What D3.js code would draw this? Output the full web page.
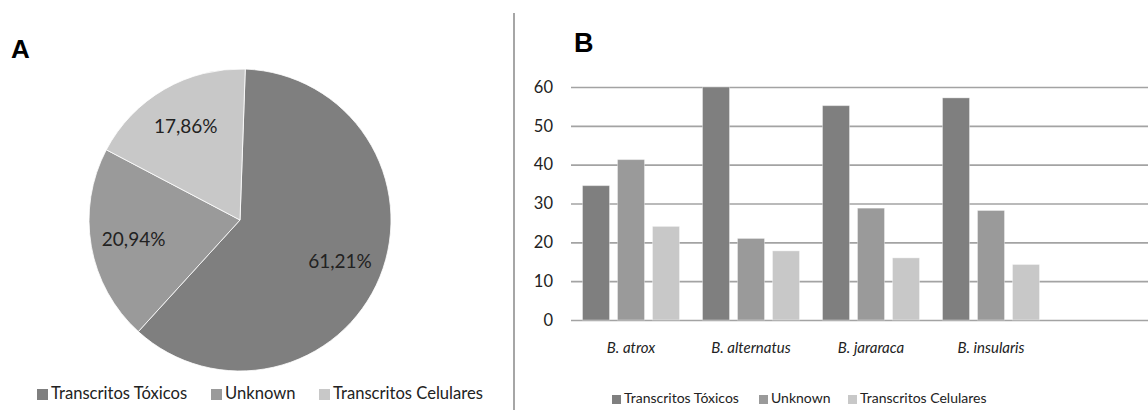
<!DOCTYPE html>
<html>
<head>
<meta charset="utf-8">
<script src="https://cdn.jsdelivr.net/npm/d3@7"></script>
<style>
  html, body { margin: 0; padding: 0; background: #fff; }
  svg { display: block; font-family: Lato, "Open Sans", sans-serif; }
</style>
</head>
<body>
<svg id="fig" width="1148" height="410"></svg>
<script>
// Transcript classes and their colours
const seriesNames = ["Transcritos Tóxicos", "Unknown", "Transcritos Celulares"];
const seriesColors = ["#7f7f7f", "#9a9a9a", "#c8c8c8"];

// Panel A: overall share of each class (%)
const pieValues = [61.21, 20.94, 17.86];
const pieLabels = ["61,21%", "20,94%", "17,86%"];

// Panel B: percentage per species
const species = ["B. atrox", "B. alternatus", "B. jararaca", "B. insularis"];
const toxicos = [34.6, 60.0, 55.2, 57.2];
const unknown = [41.3, 21.0, 28.8, 28.2];
const celulares = [24.1, 17.8, 16.0, 14.3];
const yTicks = [0, 10, 20, 30, 40, 50, 60];

const svg = d3.select("#fig");
const textColor = "#222222";

// ---------- Panel A: pie ----------
const pieG = svg.append("g").attr("transform", "translate(240,220)");
const startOffset = 2 * Math.PI / 180;
const pie = d3.pie().sort(null)
  .startAngle(startOffset).endAngle(2 * Math.PI + startOffset);
const arcs = pie(pieValues);
const arc = d3.arc().innerRadius(0).outerRadius(151);
const labelArc = d3.arc().innerRadius(108).outerRadius(108);

pieG.selectAll("path.slice").data(arcs).join("path")
  .attr("class", "slice")
  .attr("d", arc)
  .attr("fill", (d, i) => seriesColors[i])
  .attr("stroke", "#ffffff")
  .attr("stroke-width", 0.8);

pieG.selectAll("text.plabel").data(arcs).join("text")
  .attr("class", "plabel")
  .attr("transform", d => `translate(${labelArc.centroid(d)})`)
  .attr("text-anchor", "middle")
  .attr("dy", "0.36em")
  .attr("font-size", 19)
  .attr("fill", textColor)
  .text((d, i) => pieLabels[i]);

svg.append("text")
  .attr("x", 11).attr("y", 58)
  .attr("font-family", "Liberation Sans, Arial, sans-serif")
  .attr("font-weight", "bold")
  .attr("font-size", 26)
  .attr("fill", "#000")
  .text("A");

// legend builder shared by both panels
function legend(g, xs, size, box) {
  const items = g.selectAll("g.item").data(seriesNames).join("g")
    .attr("class", "item")
    .attr("transform", (d, i) => `translate(${xs[i]},0)`);
  items.append("rect")
    .attr("x", 0).attr("y", -box + 1)
    .attr("width", box).attr("height", box)
    .attr("fill", (d, i) => seriesColors[i]);
  items.append("text")
    .attr("x", box + 3).attr("y", 0)
    .attr("font-size", size)
    .attr("fill", textColor)
    .text(d => d);
}

legend(svg.append("g").attr("transform", "translate(37,399)"), [0, 174, 282], 16.6, 11);

// ---------- divider ----------
svg.append("line")
  .attr("x1", 514).attr("x2", 514)
  .attr("y1", 13).attr("y2", 410)
  .attr("stroke", "#a6a6a6")
  .attr("stroke-width", 2);

// ---------- Panel B: clustered columns ----------
svg.append("text")
  .attr("x", 574).attr("y", 52)
  .attr("font-family", "Liberation Sans, Arial, sans-serif")
  .attr("font-weight", "bold")
  .attr("font-size", 27)
  .attr("fill", "#000")
  .text("B");

const plotLeft = 571, plotRight = 1148;
const y = d3.scaleLinear().domain([0, 60]).range([320, 87]);
const x0 = d3.scaleBand().domain(species).range([plotLeft, plotLeft + 480]);
const x1 = d3.scaleBand().domain(seriesNames).range([0, x0.bandwidth()])
  .paddingInner(0.229).paddingOuter(0.329);

// horizontal gridlines with value labels
const yAxis = d3.axisLeft(y).tickValues(yTicks)
  .tickSize(-(plotRight - plotLeft)).tickPadding(18).tickFormat(d3.format("d"));
const yg = svg.append("g").attr("transform", `translate(${plotLeft},0)`).call(yAxis);
yg.select(".domain").remove();
yg.selectAll(".tick line").attr("stroke", "#a3a3a3").attr("stroke-width", 1.6);
yg.selectAll(".tick text")
  .attr("font-size", 16.5).attr("fill", textColor)
  .attr("font-family", "Lato, sans-serif");

const rows = species.map((s, i) => ({ s, v: [toxicos[i], unknown[i], celulares[i]] }));
const groups = svg.append("g").selectAll("g").data(rows).join("g")
  .attr("transform", d => `translate(${x0(d.s)},0)`);
groups.selectAll("rect").data(d => d.v.map((v, k) => ({ k, v }))).join("rect")
  .attr("x", d => x1(seriesNames[d.k]))
  .attr("width", x1.bandwidth())
  .attr("y", d => y(d.v))
  .attr("height", d => y(0) - y(d.v))
  .attr("fill", d => seriesColors[d.k])
  .attr("stroke", "rgba(255,255,255,0.35)")
  .attr("stroke-width", 1);

// species names under each group
const xAxis = d3.axisBottom(x0).tickSize(0).tickPadding(0);
const xg = svg.append("g").attr("transform", "translate(0,353)").call(xAxis);
xg.select(".domain").remove();
xg.selectAll(".tick text")
  .attr("dy", 0)
  .attr("font-size", 15)
  .attr("font-style", "italic")
  .attr("font-family", "Lato, sans-serif")
  .attr("fill", textColor);

legend(svg.append("g").attr("transform", "translate(612,403)"), [0, 147, 236], 14, 9);
</script>
</body>
</html>
